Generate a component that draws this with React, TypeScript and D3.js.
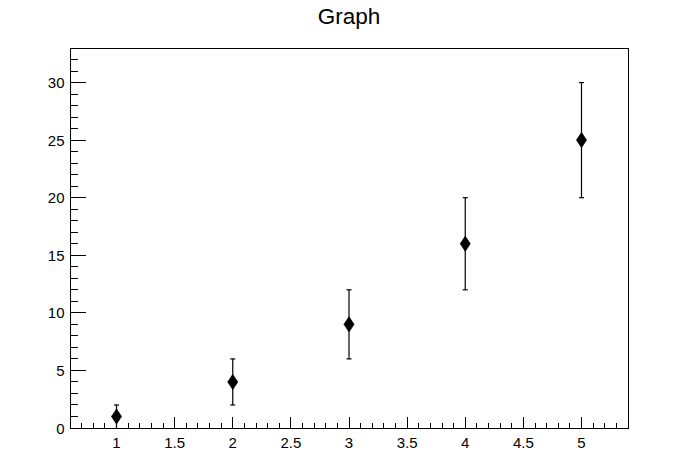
import React from "react";
import * as d3 from "d3";

const xs = [1, 2, 3, 4, 5];
const ys = [1, 4, 9, 16, 25];
const errLow = [1, 2, 3, 4, 5];
const errHigh = [1, 2, 3, 4, 5];
const xMajorTicks = [1, 1.5, 2, 2.5, 3, 3.5, 4, 4.5, 5];
const yMajorTicks = [0, 5, 10, 15, 20, 25, 30];
const title = "Graph";

export default function App() {
  const W = 698, H = 476;
  const L = 70, R = 628, T = 48, B = 428;
  const x = d3.scaleLinear().domain([0.6, 5.4]).range([L, R]);
  const y = d3.scaleLinear().domain([0, 33]).range([B, T]);
  const xMinor = d3.range(6, 55).map((v) => v / 10).filter((v) => !xMajorTicks.some((m) => Math.abs(m - v) < 1e-9));
  const yMinor = d3.range(0, 34).filter((v) => v % 5 !== 0);
  const font = "'Liberation Sans', Arial, Helvetica, sans-serif";
  const diamond = (cx: number, cy: number) =>
    `M${cx},${cy - 7.5} L${cx + 5},${cy} L${cx},${cy + 7.5} L${cx - 5},${cy} Z`;
  return (
    <svg width={W} height={H} style={{ position: "absolute", left: 0, top: 0, background: "#fff" }}>
      <rect x={0} y={0} width={W} height={H} fill="#fff" />
      <text x={349} y={24} textAnchor="middle" fontFamily={font} fontSize={22.5} fill="#000">{title}</text>
      <rect x={L} y={T} width={R - L} height={B - T} fill="none" stroke="#000" strokeWidth={1} shapeRendering="crispEdges" />
      {xMajorTicks.map((v) => (
        <g key={"xm" + v}>
          <line x1={x(v)} x2={x(v)} y1={B} y2={B - 11} stroke="#000" shapeRendering="crispEdges" />
          <text x={x(v)} y={448} textAnchor="middle" fontFamily={font} fontSize={15} fill="#000">{String(v)}</text>
        </g>
      ))}
      {xMinor.map((v) => (
        <line key={"xn" + v} x1={x(v)} x2={x(v)} y1={B} y2={B - 5.5} stroke="#000" shapeRendering="crispEdges" />
      ))}
      {yMajorTicks.map((v) => (
        <g key={"ym" + v}>
          <line x1={L} x2={L + 16} y1={y(v)} y2={y(v)} stroke="#000" shapeRendering="crispEdges" />
          <text x={64.5} y={y(v) + 5.5} textAnchor="end" fontFamily={font} fontSize={15} fill="#000">{String(v)}</text>
        </g>
      ))}
      {yMinor.map((v) => (
        <line key={"yn" + v} x1={L} x2={L + 8} y1={y(v)} y2={y(v)} stroke="#000" shapeRendering="crispEdges" />
      ))}
      {xs.map((xv, i) => {
        const cx = x(xv);
        const lo = Math.max(0, ys[i] - errLow[i]);
        const hi = ys[i] + errHigh[i];
        return (
          <g key={"p" + i}>
            <line x1={cx} x2={cx} y1={y(lo)} y2={y(hi)} stroke="#000" strokeWidth={1.2} />
            <line x1={cx - 2.5} x2={cx + 2.5} y1={y(hi)} y2={y(hi)} stroke="#000" strokeWidth={1.2} />
            {ys[i] - errLow[i] > 0 && (
              <line x1={cx - 2.5} x2={cx + 2.5} y1={y(lo)} y2={y(lo)} stroke="#000" strokeWidth={1.2} />
            )}
            <path d={diamond(cx, y(ys[i]))} fill="#000" stroke="#000" strokeWidth={0.8} />
          </g>
        );
      })}
    </svg>
  );
}
